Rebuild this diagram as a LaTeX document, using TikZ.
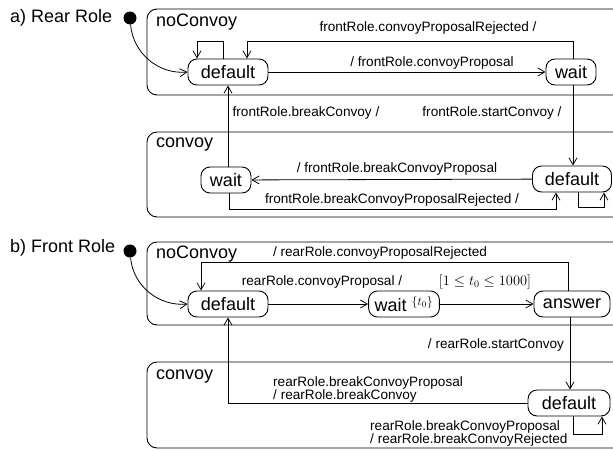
\documentclass[tikz,border=0pt]{standalone}
\usepackage{fontspec}
\setmainfont{Liberation Sans}
\usetikzlibrary{positioning, arrows.meta, calc}
\newcommand{\statefont}{\fontsize{18}{20}\selectfont}
\newcommand{\lblfont}{\fontsize{13.6}{13}\selectfont}
\tikzset{
  state/.style={draw, rounded corners=9pt, minimum height=26pt, inner xsep=9pt, inner ysep=0pt, font=\statefont, line width=0.9pt},
  region/.style={draw, rounded corners=10pt, line width=0.9pt},
  trans/.style={-{Straight Barb[length=7pt,width=8pt]}, line width=0.8pt},
  lbl/.style={font=\lblfont, inner sep=0pt},
  startdot/.style={circle, fill, inner sep=0pt, minimum size=13pt},
  title/.style={font=\statefont, inner sep=0pt, anchor=west}
}

\begin{document}
\begin{tikzpicture}[x=1pt, y=-1pt]
    \path[use as bounding box, clip] (0,0) rectangle (613,450);

    % a) Rear Role - regions
    \node[title] (titleA) at (10,18) {a) Rear Role};
    \node[startdot] (initA) at (130,18) {};
    \draw[region] (147,9) rectangle (640,95);
    \node[title] (noConvA) at (156,22) {noConvoy};
    \draw[region] (147,132) rectangle (640,217);
    \node[title] (convA) at (156,145) {convoy};

    % a) states
    \node[state, minimum width=80pt] (dfltA) at (228,72) {default};
    \node[state] (waitA) at (571,72) {wait};
    \node[state] (cwaitA) at (226,180) {wait};
    \node[state, minimum width=79pt] (cdfltA) at (572,179) {default};

    % a) transitions
    \draw[trans] (initA) to[out=-85, in=185] (dfltA.west);
    \draw[trans] ([xshift=-5pt]dfltA.north) -- ++(0,-17) -| ([xshift=-31pt]dfltA.north);
    \draw[trans] ([xshift=2pt]waitA.north) -- ++(0,-17) -| ([xshift=19pt]dfltA.north);
    \draw[trans] (dfltA) -- (waitA);
    \draw[trans] ([xshift=2pt]waitA.south) -- ([xshift=2pt]waitA.south |- cdfltA.north);
    \draw[trans] (cwaitA.north -| dfltA.south) -- (dfltA.south);
    \draw[trans] (cdfltA) -- (cwaitA);
    \draw[trans] ([xshift=3pt]cwaitA.south) -- ++(0,16) -| ([xshift=-16pt]cdfltA.south);
    \draw[trans] ([xshift=6pt]cdfltA.south) -- ++(0,15) -| ([xshift=32pt]cdfltA.south);

    % a) labels
    \node[lbl] (lRejA) at (428,28) {frontRole.convoyProposalRejected /};
    \node[lbl] (lPropA) at (432,63) {/ frontRole.convoyProposal};
    \node[lbl] (lBreakA) at (306,113) {frontRole.breakConvoy /};
    \node[lbl] (lStartA) at (492,113) {frontRole.startConvoy /};
    \node[lbl] (lBrPropA) at (397,169) {/ frontRole.breakConvoyProposal};
    \node[lbl] (lBrRejA) at (392,200) {frontRole.breakConvoyProposalRejected /};

    % b) Front Role - regions
    \node[title] (titleB) at (10,248) {b) Front Role};
    \node[startdot] (initB) at (130,251) {};
    \draw[region] (147,242) rectangle (640,325);
    \node[title] (noConvB) at (156,254) {noConvoy};
    \draw[region] (147,362) rectangle (640,448);
    \node[title] (convB) at (156,377) {convoy};

    % b) states
    \node[state, minimum width=80pt] (dfltB) at (228,304) {default};
    \node[state, inner xsep=6pt] (waitB) at (404,304) {wait $^{\{t_0\}}$};
    \node[state] (answB) at (572,304) {answer};
    \node[state, minimum width=82pt] (cdfltB) at (569,403) {default};

    % b) transitions
    \draw[trans] (initB) to[out=-85, in=185] (dfltB.west);
    \draw[trans] (dfltB) -- (waitB);
    \draw[trans] (waitB) -- (answB);
    \draw[trans] ([xshift=-4pt]answB.north) -- ++(0,-28) -| ([xshift=-27pt]dfltB.north);
    \draw[trans] ([xshift=-2pt]answB.south) -- ([xshift=-2pt]answB.south |- cdfltB.north);
    \draw[trans] (cdfltB.west) -| (dfltB.south);
    \draw[trans] ([xshift=4pt]cdfltB.south) -- ++(0,18) -| ([xshift=33pt]cdfltB.south);

    % b) labels
    \node[lbl] (lRejB) at (380,253) {/ rearRole.convoyProposalRejected};
    \node[lbl] (lPropB) at (322,282) {rearRole.convoyProposal /};
    \node[lbl] (lGuardB) at (485,282) {$[1 \le t_0 \le 1000]$};
    \node[lbl] (lStartB) at (496,345) {/ rearRole.startConvoy};
    \node[lbl, anchor=west, align=left] (lBreakB) at (273,389) {rearRole.breakConvoyProposal\\/ rearRole.breakConvoy};
    \node[lbl, anchor=west, align=left] (lBrRejB) at (370,433) {rearRole.breakConvoyProposal\\/ rearRole.breakConvoyRejected};
\end{tikzpicture}
\end{document}
